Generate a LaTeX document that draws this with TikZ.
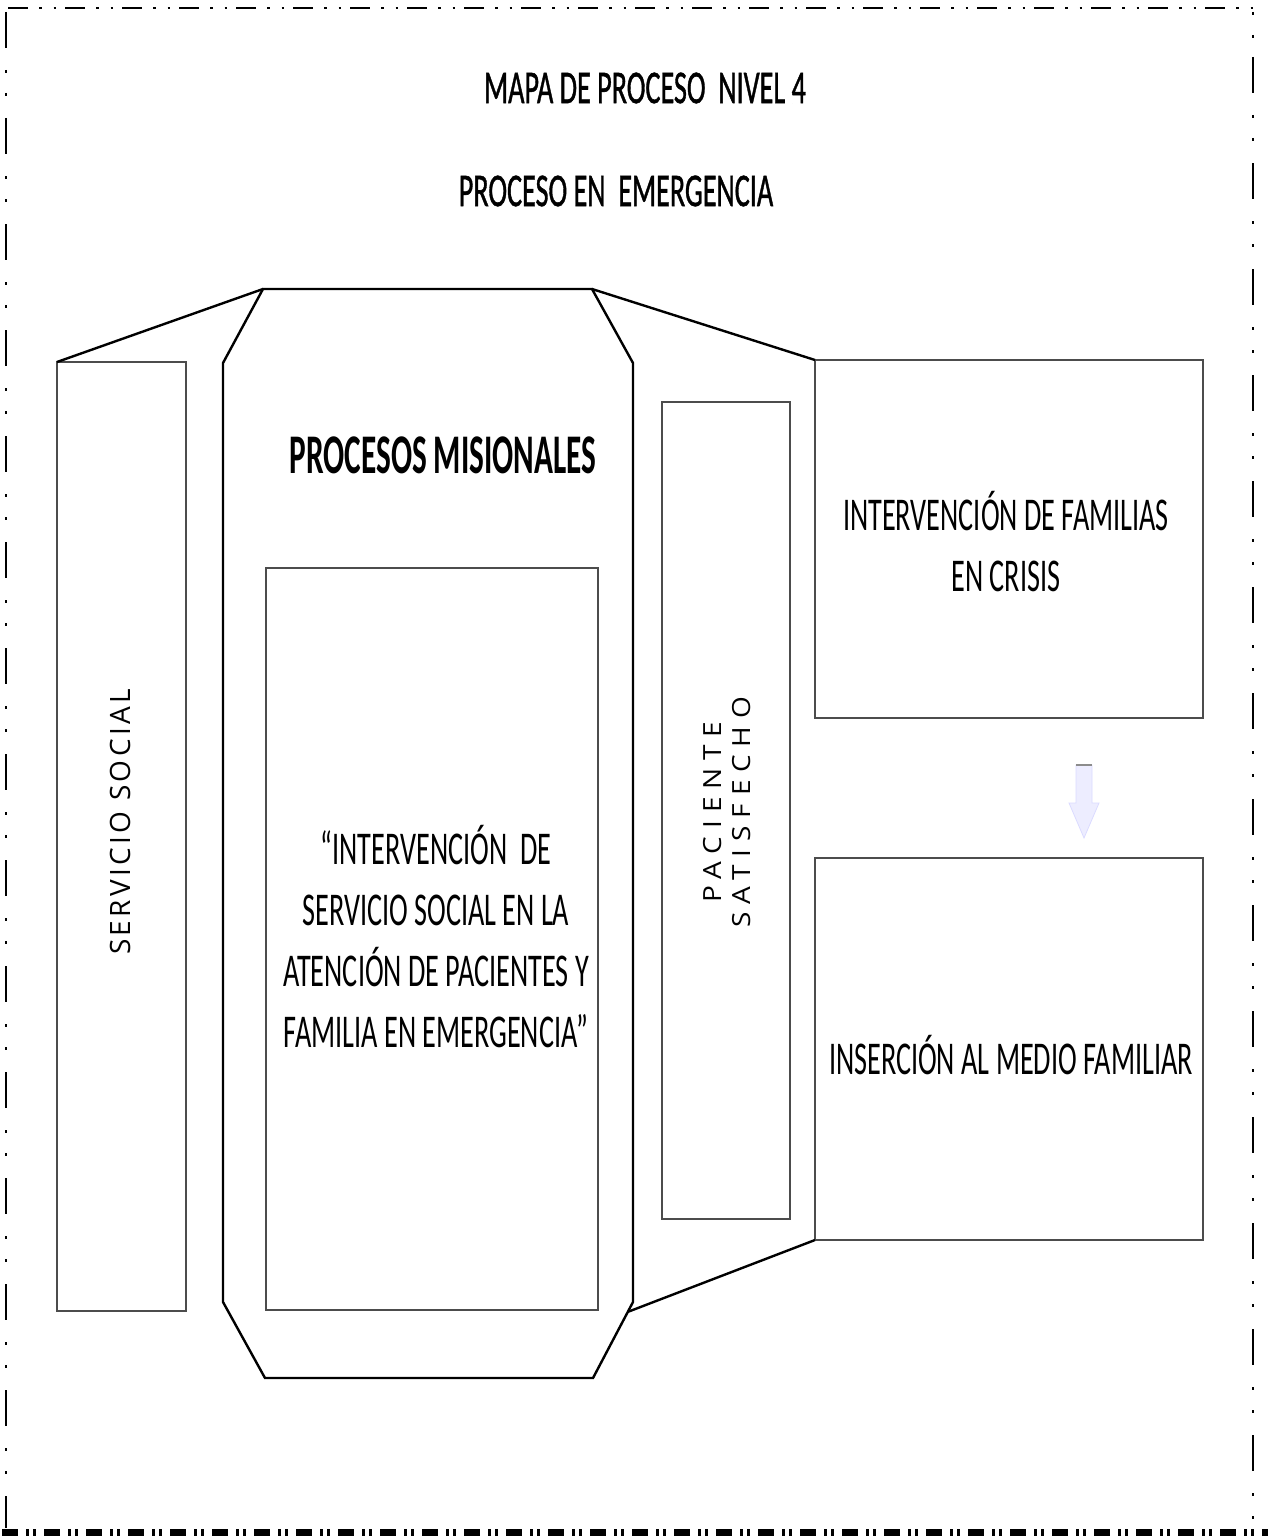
\documentclass[tikz,border=0pt]{standalone}
\usepackage{fontspec}
\setmainfont{Carlito}
\newfontfamily\titlefont[FakeBold=1.2]{Carlito}
\newfontfamily\vfont[LetterSpace=12]{Open Sans}
\newfontfamily\vfontb[LetterSpace=28]{Open Sans}
\usetikzlibrary{calc}
\begin{document}
\begin{tikzpicture}[x=1pt,y=-1pt,
  box/.style={draw=black!70, line width=1.4pt, inner sep=0pt, outer sep=0pt},
  heavy/.style={draw=black, line width=2.4pt, line join=miter},
  cond/.style={xscale=0.6, inner sep=0pt, align=center},
  txt/.style={cond, font=\fontsize{47}{61}\selectfont},
  ttl/.style={cond, font=\titlefont\fontsize{47}{50}\selectfont},
  frameh/.style={line width=2.4pt, dash pattern=on 20pt off 11pt on 2.5pt off 12pt on 2.5pt off 9pt},
  framev/.style={line width=2.2pt, dash pattern=on 36pt off 22pt on 3pt off 20pt on 3pt off 22pt},
  frameb/.style={line width=9pt, dash pattern=on 16pt off 8pt on 3pt off 4pt on 3pt off 8pt}]
\useasboundingbox (0,0) rectangle (1268,1536);
\fill[white] (0,0) rectangle (1268,1536);

% outer frame
\draw[frameh] (8,8) -- (1254,8);
\draw[framev] (6,12) -- (6,1528);
\draw[framev] (1253,57) -- (1253,1528);
\draw[line width=2.2pt, dash pattern=on 3pt off 20pt] (1253,12) -- (1253,40);
\draw[frameb] (2,1533) -- (1268,1533);

% titles
\node[ttl] (t1) at (645,88) {MAPA DE PROCESO\ \ NIVEL\ 4};
\node[ttl] (t2) at (616,191) {PROCESO EN\ \ EMERGENCIA};

% octagon
\coordinate (o1) at (263,289);
\coordinate (o2) at (592,289);
\coordinate (o3) at (633,363);
\coordinate (o4) at (633,1302);
\coordinate (o5) at (593,1378);
\coordinate (o6) at (265,1378);
\coordinate (o7) at (223,1302);
\coordinate (o8) at (223,363);
\draw[heavy] (o1) -- (o2) -- (o3) -- (o4) -- (o5) -- (o6) -- (o7) -- (o8) -- cycle;
\coordinate (oc) at ($(o4)!0.13!(o5)$);

% boxes
\node[box, minimum width=129pt, minimum height=949pt] (ss) at (121.5,836.5) {};
\node[box, minimum width=332pt, minimum height=742pt] (inner) at (432,939) {};
\node[box, minimum width=128pt, minimum height=817pt] (ps) at (726,810.5) {};
\node[box, minimum width=388pt, minimum height=358pt] (ru) at (1009,539) {};
\node[box, minimum width=388pt, minimum height=382pt] (rl) at (1009,1049) {};

% connectors
\draw[heavy] (o1) -- (ss.north west);
\draw[heavy] (o2) -- (ru.north west);
\draw[heavy] (oc) -- (rl.south west);

% texts
\node[rotate=90, inner sep=0pt, font=\vfont\fontsize{28}{30}\selectfont] (sst) at (120,822) {SERVICIO SOCIAL};
\node[rotate=90, xscale=1.12, inner sep=0pt, align=center, font=\vfontb\fontsize{25}{29}\selectfont] (pst) at (727,812) {PACIENTE\\ SATISFECHO};
\node[cond, xscale=0.93, font=\fontsize{56}{60}\selectfont\bfseries] (pm) at (443,455) {PROCESOS MISIONALES};
\node[txt] (it) at (436,937) {“INTERVENCIÓN\ \ DE\\ SERVICIO SOCIAL EN LA\\ ATENCIÓN DE PACIENTES Y\\ FAMILIA EN EMERGENCIA”};
\node[txt] (rut) at (1006,542) {INTERVENCIÓN DE FAMILIAS\\ EN CRISIS};
\node[txt] (rlt) at (1011,1055) {INSERCIÓN AL MEDIO FAMILIAR};

% arrow
\filldraw[fill=blue!7, draw=blue!14, line width=0.8pt]
  (1076,765) -- (1092,765) -- (1092,803) -- (1099,803) -- (1084,838) -- (1069,803) -- (1076,803) -- cycle;
\draw[black!45, line width=1.5pt] (1076,765) -- (1092,765);
\end{tikzpicture}
\end{document}
